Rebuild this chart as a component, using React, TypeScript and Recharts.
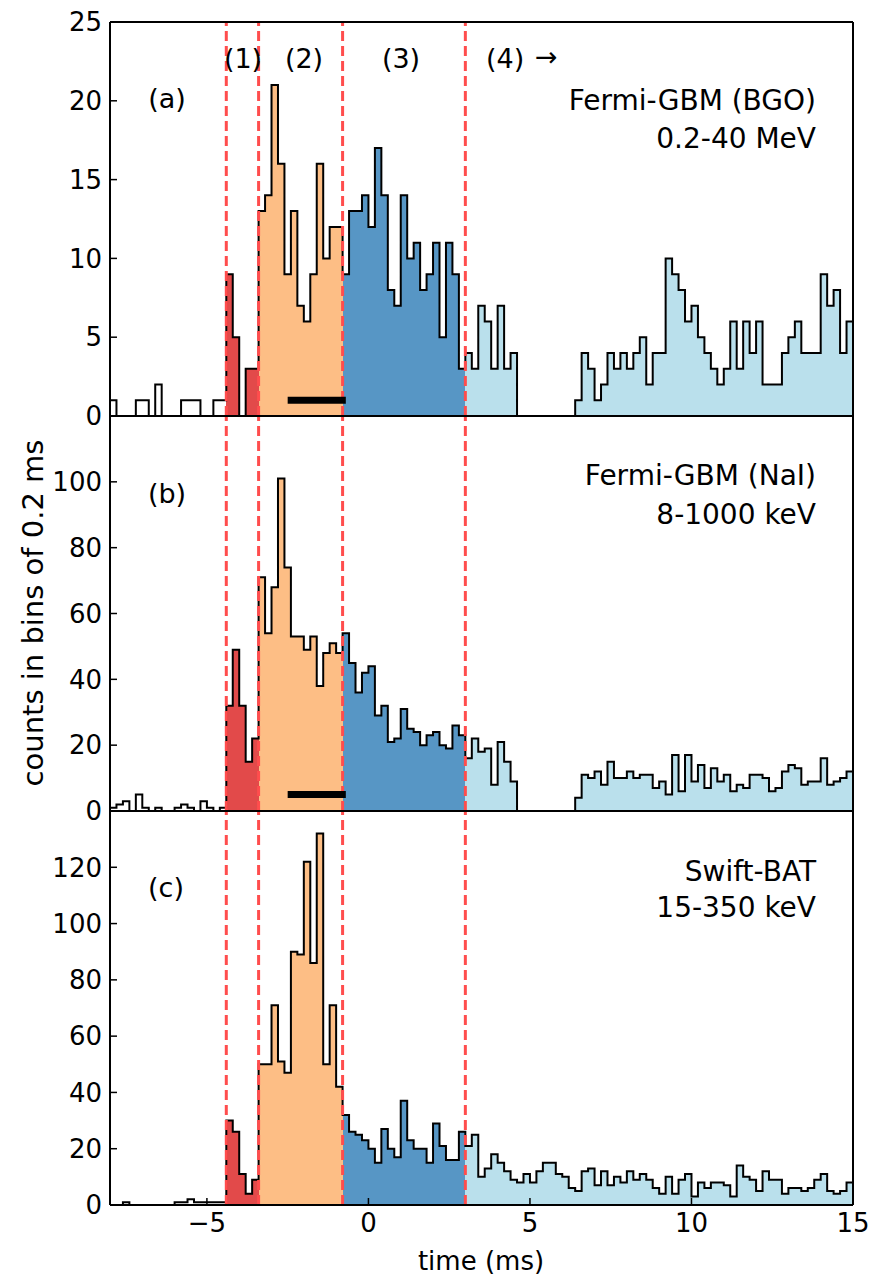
import type { ReactNode } from "react";
import { ComposedChart, Area, XAxis, YAxis, ReferenceLine } from "recharts";

const BIN_START = -8;
const BIN_WIDTH = 0.2;
const X_MIN = -8;
const X_MAX = 15;
const x_ticks = [-5, 0, 5, 10, 15];

// interval boundaries (1) .. (4), in ms
const interval_edges = [-4.4, -3.4, -0.8, 3.0, 15];
const interval_colors = ["#e24a4a", "#fdbe85", "#5796c5", "#bae0ec"];
const divider_lines = [-4.4, -3.4, -0.8, 3.0];
const scale_bar = [-2.5, -0.7];

// counts per 0.2 ms bin, first bin starts at -8 ms
const bgo_counts = [
	1, 0, 0, 0, 1, 1, 0, 2, 0, 0,
	0, 1, 1, 1, 0, 0, 1, 1, 9, 5,
	0, 3, 3, 13, 14, 21, 16, 9, 13, 7,
	6, 9, 16, 10, 12, 12, 9, 13, 13, 14,
	12, 17, 14, 8, 7, 14, 10, 11, 8, 9,
	11, 5, 11, 9, 3, 4, 3, 7, 6, 3,
	7, 3, 4, 0, 0, 0, 0, 0, 0, 0,
	0, 0, 1, 4, 3, 1, 2, 4, 3, 4,
	3, 4, 5, 2, 4, 4, 10, 9, 8, 6,
	7, 5, 4, 3, 2, 3, 6, 3, 6, 4,
	6, 2, 2, 2, 4, 5, 6, 4, 4, 4,
	9, 7, 8, 4, 6,
];

const nai_counts = [
	1, 2, 3, 0, 5, 1, 0, 1, 0, 0,
	1, 2, 1, 0, 3, 1, 0, 1, 32, 49,
	32, 15, 22, 71, 54, 68, 101, 74, 53, 53,
	49, 53, 38, 48, 51, 48, 54, 45, 36, 42,
	44, 29, 32, 21, 22, 31, 25, 24, 20, 23,
	24, 20, 19, 26, 23, 16, 22, 18, 19, 8,
	21, 15, 9, 0, 0, 0, 0, 0, 0, 0,
	0, 0, 4, 11, 10, 12, 8, 15, 10, 10,
	12, 10, 11, 11, 7, 9, 5, 17, 6, 17,
	9, 14, 7, 13, 9, 11, 6, 8, 7, 11,
	11, 10, 6, 7, 12, 14, 13, 8, 9, 9,
	16, 8, 9, 10, 12,
];

const bat_counts = [
	0, 0, 1, 0, 0, 0, 0, 0, 0, 0,
	1, 1, 2, 1, 1, 1, 1, 1, 30, 26,
	11, 4, 9, 50, 50, 71, 51, 47, 90, 89,
	122, 86, 132, 50, 71, 42, 32, 26, 25, 23,
	20, 15, 27, 20, 17, 37, 23, 20, 20, 15,
	29, 21, 16, 16, 26, 21, 25, 10, 13, 18,
	15, 12, 9, 8, 11, 8, 12, 15, 15, 11,
	10, 6, 5, 12, 13, 7, 12, 7, 10, 8,
	12, 9, 11, 9, 6, 4, 10, 4, 9, 11,
	3, 8, 6, 8, 8, 7, 3, 14, 10, 9,
	5, 12, 9, 9, 4, 6, 6, 5, 6, 9,
	11, 5, 4, 5, 8,
];

const bgo_ticks = [0, 5, 10, 15, 20, 25];
const nai_ticks = [0, 20, 40, 60, 80, 100, 120];
const bat_ticks = [0, 20, 40, 60, 80, 100, 120, 140];

const FONT = "DejaVu Sans";

function toSteps(counts: number[]) {
	const pts = counts.map((v, i) => ({ t: +(BIN_START + i * BIN_WIDTH).toFixed(2), v }));
	pts.push({ t: +(BIN_START + counts.length * BIN_WIDTH).toFixed(2), v: counts[counts.length - 1] });
	return pts;
}

const frac = (t: number) => (t - X_MIN) / (X_MAX - X_MIN);
const fmtX = (v: number) => (v < 0 ? `\u2212${Math.abs(v)}` : String(v));

type PanelProps = {
	id: string;
	counts: number[];
	yTicks: number[];
	hideTopLabel: boolean;
	barY?: number;
	top: number;
	height: number;
	marginTop: number;
	marginBottom: number;
	showXLabels: boolean;
};

function Panel(p: PanelProps): ReactNode {
	const data = toSteps(p.counts);
	const yMax = p.yTicks[p.yTicks.length - 1];
	const axisLine = { stroke: "#000", strokeWidth: 2 };
	const tickLine = { stroke: "#000", strokeWidth: 1.5 };
	const tickFont = { fill: "#000", fontSize: 26, fontFamily: FONT };

	return (
		<div style={{ position: "absolute", left: 0, top: p.top }}>
			<ComposedChart
				width={886}
				height={p.height}
				data={data}
				margin={{ top: p.marginTop - 1, right: 32, bottom: p.showXLabels ? p.marginBottom : p.marginBottom - 1, left: 0 }}
			>
				<defs>
					<linearGradient id={`fill-${p.id}`} x1="0" y1="0" x2="1" y2="0">
						<stop offset={0} stopColor="#fff" stopOpacity={0} />
						<stop offset={frac(interval_edges[0])} stopColor="#fff" stopOpacity={0} />
						{interval_colors.map((c, i) => [
							<stop key={`a${i}`} offset={frac(interval_edges[i])} stopColor={c} />,
							<stop key={`b${i}`} offset={frac(interval_edges[i + 1])} stopColor={c} />,
						])}
					</linearGradient>
				</defs>
				<XAxis
					xAxisId="bottom"
					type="number"
					dataKey="t"
					domain={[X_MIN, X_MAX]}
					ticks={x_ticks}
					interval={0}
					allowDataOverflow
					height={p.showXLabels ? 72 : 1}
					tickSize={-7}
					tickMargin={15.5}
					tick={p.showXLabels ? tickFont : false}
					tickFormatter={fmtX}
					axisLine={axisLine}
					tickLine={tickLine}
				/>
				<XAxis
					xAxisId="top"
					orientation="top"
					type="number"
					dataKey="t"
					domain={[X_MIN, X_MAX]}
					ticks={x_ticks}
					interval={0}
					allowDataOverflow
					height={1}
					tickSize={-7}
					tick={false}
					axisLine={axisLine}
					tickLine={tickLine}
				/>
				<YAxis
					yAxisId="left"
					type="number"
					domain={[0, yMax]}
					ticks={p.yTicks}
					interval={0}
					allowDataOverflow
					width={110}
					tickSize={-7}
					tickMargin={15}
					tick={tickFont}
					tickFormatter={(v: number) => (p.hideTopLabel && v === yMax ? "" : String(v))}
					axisLine={axisLine}
					tickLine={tickLine}
				/>
				<YAxis
					yAxisId="right"
					orientation="right"
					type="number"
					domain={[0, yMax]}
					ticks={p.yTicks}
					interval={0}
					allowDataOverflow
					width={1}
					tickSize={-7}
					tick={false}
					axisLine={axisLine}
					tickLine={tickLine}
				/>
				<Area
					xAxisId="bottom"
					yAxisId="left"
					type="stepAfter"
					dataKey="v"
					stroke="#000"
					strokeWidth={2}
					fill={`url(#fill-${p.id})`}
					fillOpacity={1}
					dot={false}
					activeDot={false}
					isAnimationActive={false}
				/>
				{divider_lines.map((x) => (
					<ReferenceLine
						key={x}
						xAxisId="bottom"
						yAxisId="left"
						x={x}
						stroke="#ff4d4d"
						strokeWidth={3}
						strokeDasharray="10 5"
					/>
				))}
				{p.barY !== undefined && (
					<ReferenceLine
						xAxisId="bottom"
						yAxisId="left"
						segment={[
							{ x: scale_bar[0], y: p.barY },
							{ x: scale_bar[1], y: p.barY },
						]}
						stroke="#000"
						strokeWidth={7}
					/>
				)}
			</ComposedChart>
		</div>
	);
}

export default function App(): ReactNode {
	const t = { fontFamily: FONT, fill: "#000" };
	return (
		<div style={{ position: "absolute", left: 0, top: 0, width: 886, height: 1277, background: "#fff" }}>
			<Panel id="bgo" counts={bgo_counts} yTicks={bgo_ticks} hideTopLabel={false} barY={1}
				top={0} height={430} marginTop={22} marginBottom={14} showXLabels={false} />
			<Panel id="nai" counts={nai_counts} yTicks={nai_ticks} hideTopLabel barY={5}
				top={402} height={423} marginTop={14} marginBottom={14} showXLabels={false} />
			<Panel id="bat" counts={bat_counts} yTicks={bat_ticks} hideTopLabel
				top={797} height={480} marginTop={14} marginBottom={0} showXLabels />
			<svg width={886} height={1277} style={{ position: "absolute", left: 0, top: 0, pointerEvents: "none" }}>
				<g fontSize={27} {...t}>
					<text x={243} y={68} textAnchor="middle">(1)</text>
					<text x={304} y={68} textAnchor="middle">(2)</text>
					<text x={401} y={68} textAnchor="middle">(3)</text>
					<text x={486} y={68}>(4)</text>
					<text x={535} y={66}>→</text>
					<text x={167} y={108} textAnchor="middle">(a)</text>
					<text x={167} y={503} textAnchor="middle">(b)</text>
					<text x={166} y={897} textAnchor="middle">(c)</text>
				</g>
				<text x={481} y={1270} fontSize={26} textAnchor="middle" {...t}>time (ms)</text>
				<g fontSize={28} textAnchor="end" {...t}>
					<text x={816} y={110}>Fermi-GBM (BGO)</text>
					<text x={816} y={148}>0.2-40 MeV</text>
					<text x={816} y={485}>Fermi-GBM (NaI)</text>
					<text x={816} y={524}>8-1000 keV</text>
					<text x={816} y={881}>Swift-BAT</text>
					<text x={816} y={917}>15-350 keV</text>
				</g>
				<text x={43} y={613} fontSize={29} textAnchor="middle" transform="rotate(-90 43 613)" {...t}>
					counts in bins of 0.2 ms
				</text>
			</svg>
		</div>
	);
}
